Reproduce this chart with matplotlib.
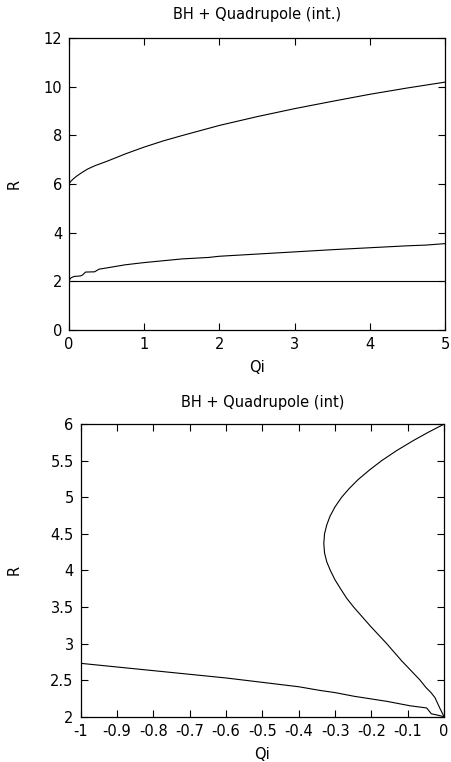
import matplotlib
matplotlib.use('Agg')
import matplotlib.pyplot as plt

plt.rcParams['font.family'] = ['DejaVu Sans']
plt.rcParams['font.size'] = 10.5

# top panel, Q > 0
q_upper = [0.0, 0.01, 0.03, 0.06, 0.1, 0.17, 0.25, 0.35, 0.5, 0.75, 1.0, 1.25, 1.5, 2.0, 2.5, 3.0, 3.5, 4.0, 4.5, 5.0]
r_upper = [6.0, 6.06, 6.13, 6.22, 6.32, 6.47, 6.62, 6.76, 6.93, 7.24, 7.52, 7.77, 7.99, 8.41, 8.77, 9.10, 9.40, 9.69, 9.95, 10.19]

q_mid = [0.0, 0.03, 0.07, 0.15, 0.18, 0.22, 0.34, 0.40, 0.5, 0.75, 1.0, 1.5, 1.85, 2.0, 2.5, 3.0, 3.5, 4.0, 4.5, 4.75, 5.0]
r_mid = [2.05, 2.15, 2.2, 2.22, 2.26, 2.38, 2.39, 2.5, 2.55, 2.68, 2.77, 2.92, 2.98, 3.03, 3.12, 3.21, 3.3, 3.38, 3.46, 3.49, 3.55]

q_flat = [0.0, 5.0]
r_flat = [2.0, 2.0]

# bottom panel, Q < 0
q_loop = [0.0, -0.043, -0.083, -0.130, -0.172, -0.206, -0.237, -0.261, -0.282, -0.300, -0.314, -0.323,
          -0.329, -0.331, -0.329, -0.323, -0.313, -0.300, -0.285, -0.268, -0.249, -0.203, -0.158, -0.116, -0.089,
          -0.066, -0.05, -0.036, -0.025, -0.012, 0.0]
r_loop = [6.0, 5.89, 5.78, 5.64, 5.5, 5.37, 5.24, 5.12, 5.0, 4.87, 4.74, 4.62,
          4.5, 4.37, 4.24, 4.12, 4.0, 3.87, 3.75, 3.62, 3.5, 3.24, 3.0, 2.76, 2.62,
          2.5, 2.40, 2.33, 2.26, 2.12, 2.0]

q_low = [-1.0, -0.9, -0.8, -0.7, -0.6, -0.5, -0.4, -0.342, -0.3, -0.248, -0.157, -0.094, -0.048, -0.035, -0.016, 0.0]
r_low = [2.73, 2.68, 2.63, 2.58, 2.53, 2.47, 2.41, 2.36, 2.33, 2.28, 2.21, 2.15, 2.12, 2.04, 2.02, 2.0]

fig = plt.figure(figsize=(4.52, 7.62), dpi=100)

ax1 = fig.add_axes([0.1527, 0.567, 0.832, 0.383])
ax1.plot(q_upper, r_upper, 'k-', lw=0.8)
ax1.plot(q_mid, r_mid, 'k-', lw=0.8)
ax1.plot(q_flat, r_flat, 'k-', lw=0.8)
ax1.set_xlim(0, 5)
ax1.set_ylim(0, 12)
ax1.set_xticks(range(0, 6))
ax1.set_yticks(range(0, 13, 2))
ax1.set_xlabel('Qi', labelpad=5.8)
ax1.set_ylabel('R')
ax1.yaxis.set_label_coords(-0.125, 0.5)
fig.text(0.5 * (0.1527 + 0.9847), 1 - 15 / 762, 'BH + Quadrupole (int.)', ha='center', va='center')

ax2 = fig.add_axes([0.1785, 0.0594, 0.804, 0.384])
ax2.plot(q_loop, r_loop, 'k-', lw=0.8)
ax2.plot(q_low, r_low, 'k-', lw=0.8)
ax2.set_xlim(-1, 0)
ax2.set_ylim(2, 6)
xt = [-1 + 0.1 * i for i in range(11)]
ax2.set_xticks(xt)
ax2.set_xticklabels(['-1', '-0.9', '-0.8', '-0.7', '-0.6', '-0.5', '-0.4', '-0.3', '-0.2', '-0.1', '0'])
yt = [2 + 0.5 * i for i in range(9)]
ax2.set_yticks(yt)
ax2.set_yticklabels(['2', '2.5', '3', '3.5', '4', '4.5', '5', '5.5', '6'])
ax2.set_xlabel('Qi', labelpad=6.2)
ax2.set_ylabel('R')
ax2.yaxis.set_label_coords(-0.1616, 0.5)
fig.text(0.5 * (0.1785 + 0.9825), 1 - 403 / 762, 'BH + Quadrupole (int)', ha='center', va='center')

for ax in (ax1, ax2):
    ax.tick_params(direction='in', top=True, right=True, length=5, width=0.8, labelsize=10.5, pad=5)
    for s in ax.spines.values():
        s.set_linewidth(0.9)

fig.savefig('out.png', dpi=100)
